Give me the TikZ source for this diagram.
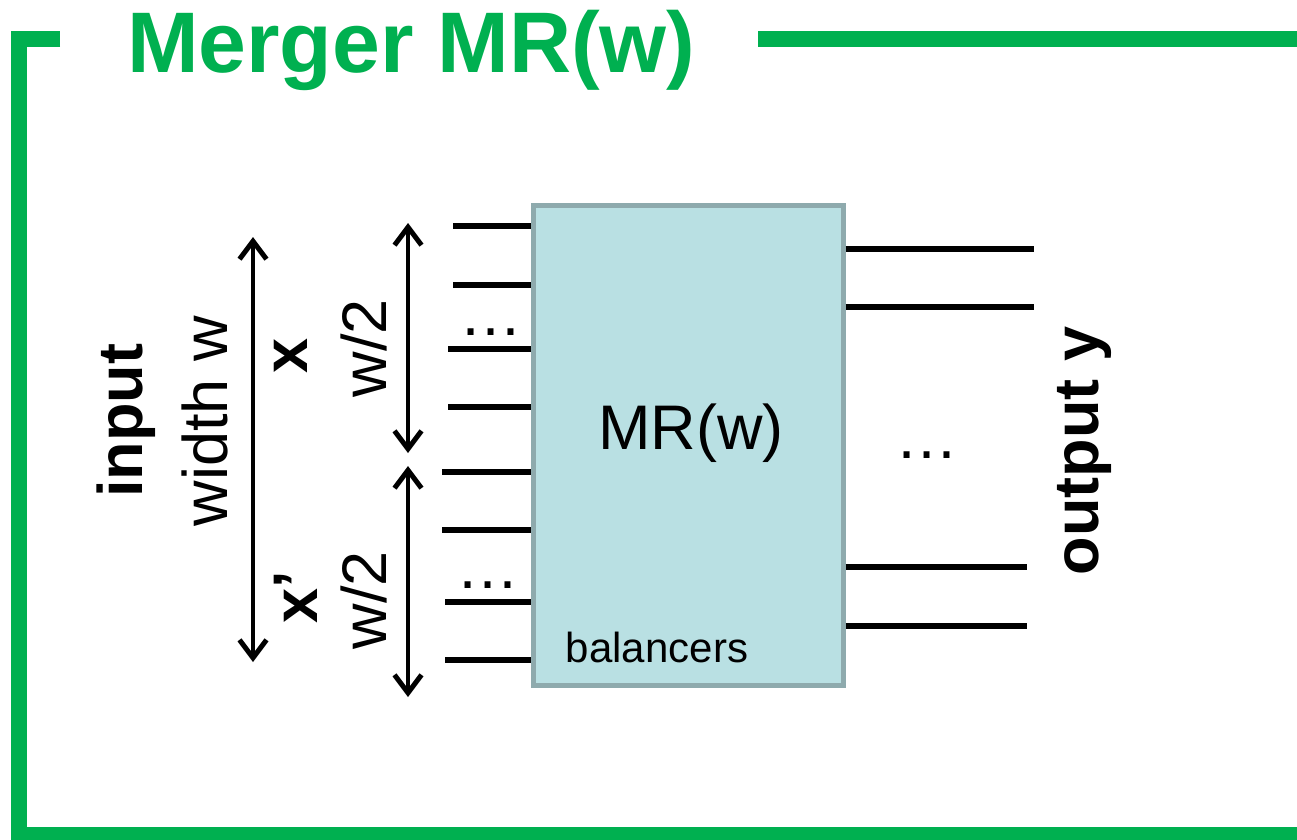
\documentclass[tikz,border=0pt]{standalone}
\usepackage{fontspec}
\setmainfont{Liberation Sans}
\usetikzlibrary{arrows.meta}
\definecolor{frgreen}{HTML}{00B050}
\definecolor{boxfill}{HTML}{B9E0E3}
\definecolor{boxline}{HTML}{8EAAAD}
\begin{document}
\begin{tikzpicture}[x=1pt,y=-1pt,
  frame/.style={draw=frgreen,line width=16pt,line cap=butt,line join=miter},
  wire/.style={draw=black,line width=5.2pt},
  dimarrow/.style={draw=black,line width=4.6pt,
    {Straight Barb[length=18pt,width=27pt,line width=5pt]}-{Straight Barb[length=18pt,width=27pt,line width=5pt]}},
  lbl/.style={inner sep=0pt,outer sep=0pt,text=black},
  big/.style={font=\fontsize{63}{66}\selectfont},
  bigb/.style={font=\bfseries\fontsize{63}{66}\selectfont},
  dotsl/.style={lbl,font=\fontsize{63}{66}\selectfont,anchor=base}
]
\useasboundingbox (0,0) rectangle (1297,839);
\clip (0,0) rectangle (1297,839);

% green frame
\coordinate (f1) at (60,39);
\coordinate (f2) at (19,39);
\coordinate (f3) at (19,835);
\coordinate (f4) at (1310,835);
\coordinate (f5) at (758,39);
\coordinate (f6) at (1310,39);
\draw[frame] (f1) -- (f2) -- (f3) -- (f4);
\draw[frame] (f5) -- (f6);
\node[lbl,anchor=base west,text=frgreen,font=\bfseries\fontsize{86}{90}\selectfont] (title) at (127,72) {Merger MR(w)};

% merger box
\node[draw=boxline,fill=boxfill,line width=5pt,minimum width=310pt,minimum height=480pt,
      inner sep=0pt,outer sep=0pt,anchor=north west] (mr) at (533,205) {};
\node[lbl,anchor=base,font=\fontsize{63}{66}\selectfont] (mrlabel) at (691,449) {MR(w)};
\node[lbl,anchor=base,font=\fontsize{42}{44}\selectfont] (bal) at (657,662) {balancers};

% input wires
\foreach \n/\y/\x in {1/226/453,2/285/453,3/349/448,4/407/448,5/472/442,6/530/442,7/602/445,8/660/445}{
  \coordinate (in\n) at (\x,\y);
  \draw[wire,shorten >=2.5pt] (in\n) -- (in\n -| mr.west);
}
\node[dotsl] (dotsa) at (491,335) {…};
\node[dotsl] (dotsb) at (488,588) {…};

% output wires
\foreach \n/\y/\x in {1/249/1034,2/307/1034,3/567/1027,4/626/1027}{
  \coordinate (out\n) at (\x,\y);
  \draw[wire,shorten <=2.5pt] (mr.east |- out\n) -- (out\n);
}
\node[dotsl] (dotsc) at (927,458) {…};

% dimension arrows
\coordinate (la) at (253,237);
\coordinate (lb) at (253,662);
\coordinate (sa) at (408,223);
\coordinate (sb) at (408,453);
\coordinate (sc) at (408,466);
\coordinate (sd) at (408,697);
\draw[dimarrow] (la) -- (lb);
\draw[dimarrow] (sa) -- (sb);
\draw[dimarrow] (sc) -- (sd);

% rotated labels
\node[lbl,bigb,rotate=90] (inp) at (126,421) {input};
\node[lbl,big,rotate=90] (wid) at (205,421) {width w};
\node[lbl,bigb,rotate=90] (xl) at (291,356) {x};
\node[lbl,big,rotate=90] (wa) at (364,348) {w/2};
\node[lbl,bigb,rotate=90] (xp) at (296,597) {x’};
\node[lbl,big,rotate=90] (wb) at (364,600) {w/2};
\node[lbl,bigb,rotate=90] (outy) at (1084,451) {output y};
\end{tikzpicture}
\end{document}
